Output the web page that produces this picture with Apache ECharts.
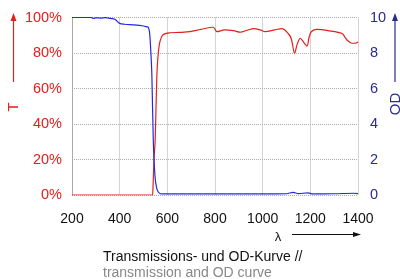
<!DOCTYPE html>
<html>
<head>
<meta charset="utf-8">
<script src="https://cdn.jsdelivr.net/npm/echarts@6/dist/echarts.min.js"></script>
<style>
html,body{margin:0;padding:0;background:#fff;}
#chart{width:400px;height:279px;}
</style>
</head>
<body>
<div id="chart"></div>
<script>
// wellenlaenge (nm) und transmission (%)
var tNm = [200, 530, 537, 540, 544, 549, 556, 562, 570, 583, 612, 650, 695, 740, 793, 808, 840, 877, 906, 935, 962, 990, 1011, 1050, 1081, 1107, 1120, 1134, 1145, 1158, 1172, 1186, 1195, 1204, 1228, 1280, 1333, 1345, 1354, 1375, 1389, 1400];
var tVal = [0, 0, 0, 5, 20, 31, 67, 80, 87, 90.4, 91.4, 91.6, 92, 93.3, 94.5, 92, 93, 92.6, 91.7, 92.8, 93.7, 93, 92, 93, 93.7, 91, 88, 79.8, 85, 88.3, 86, 83.9, 89, 92, 93.3, 92.5, 91, 89, 87.3, 85.5, 85.5, 86.2];
// optische dichte
var odNm = [200, 280, 290, 300, 320, 340, 360, 380, 400, 420, 460, 500, 515, 520, 525, 529, 535, 541, 548, 555, 565, 580, 600, 800, 1000, 1100, 1128, 1150, 1190, 1210, 1300, 1380, 1400];
var odVal = [10, 10, 9.95, 9.98, 9.97, 9.99, 9.95, 9.9, 9.67, 9.62, 9.58, 9.52, 9.47, 9.45, 9.2, 8.5, 6.8, 3.1, 1.1, 0.4, 0.12, 0.06, 0.06, 0.06, 0.06, 0.07, 0.15, 0.08, 0.12, 0.06, 0.07, 0.1, 0.08];
var xTicks = [200, 400, 600, 800, 1000, 1200, 1400];

var red = '#e3201b', navy = '#2b2b8c', blue = '#2626e6';
var font = '"Liberation Sans", Arial, sans-serif';

var chart = echarts.init(document.getElementById('chart'));
var option = {
    animation: false,
    textStyle: {fontFamily: font},
    grid: {left: 72, right: 42, top: 17.5, bottom: 84},
    xAxis: {
        type: 'value', min: 200, max: 1400, interval: 200,
        axisLine: {show: false},
        axisTick: {show: false},
        axisLabel: {color: '#111', fontSize: 14, margin: 17,
            formatter: function (v) { return xTicks.indexOf(v) >= 0 ? v : ''; }},
        splitLine: {lineStyle: {color: '#aaa', type: 'dotted', width: 1}}
    },
    yAxis: [{
        type: 'value', min: 0, max: 100, interval: 20,
        axisLine: {show: true, lineStyle: {color: '#aaa'}},
        axisTick: {show: false},
        axisLabel: {color: red, fontSize: 14.5, margin: 10, formatter: '{value}%'},
        splitLine: {lineStyle: {color: '#aaa', type: 'dotted', width: 1}}
    }, {
        type: 'value', min: 0, max: 10, interval: 2,
        axisLine: {show: false},
        axisTick: {show: false},
        axisLabel: {color: navy, fontSize: 14.5, margin: 12},
        splitLine: {show: false}
    }],
    series: [{
        name: 'T', type: 'line', yAxisIndex: 0, showSymbol: false, smooth: 0.3,
        lineStyle: {color: red, width: 1.2},
        data: tNm.map(function (x, i) { return [x, tVal[i]]; })
    }, {
        name: 'OD', type: 'line', yAxisIndex: 1, showSymbol: false, smooth: 0.3,
        lineStyle: {color: blue, width: 1.2},
        data: odNm.map(function (x, i) { return [x, odVal[i]]; })
    }],
    graphic: [
        // T pfeil
        {type: 'line', shape: {x1: 13.5, y1: 82, x2: 13.5, y2: 19}, style: {stroke: red, lineWidth: 1.2}},
        {type: 'polygon', shape: {points: [[13.5, 13], [10.5, 21], [16.5, 21]]}, style: {fill: red}},
        {type: 'text', x: 14, y: 107, rotation: Math.PI / 2, style: {text: 'T', fill: red, font: '15px ' + font, align: 'center', verticalAlign: 'middle'}},
        // OD pfeil
        {type: 'line', shape: {x1: 395, y1: 82, x2: 395, y2: 19}, style: {stroke: navy, lineWidth: 1.2}},
        {type: 'polygon', shape: {points: [[395, 13], [392, 21], [398, 21]]}, style: {fill: navy}},
        {type: 'text', x: 396, y: 104, rotation: Math.PI / 2, style: {text: 'OD', fill: navy, font: '15px ' + font, align: 'center', verticalAlign: 'middle'}},
        // lambda
        {type: 'text', x: 278, y: 237, style: {text: 'λ', fill: '#111', font: '13px ' + font, align: 'center', verticalAlign: 'middle'}},
        {type: 'line', shape: {x1: 292, y1: 234.5, x2: 354, y2: 234.5}, style: {stroke: '#111', lineWidth: 1}},
        {type: 'polygon', shape: {points: [[361, 234.5], [353, 232], [353, 237]]}, style: {fill: '#111'}},
        // beschriftung
        {type: 'text', x: 103, y: 257, style: {text: 'Transmissions- und OD-Kurve //', fill: '#111', font: '14px ' + font, verticalAlign: 'middle'}},
        {type: 'text', x: 103, y: 273, style: {text: 'transmission and OD curve', fill: '#888', font: '14px ' + font, verticalAlign: 'middle'}}
    ]
};
chart.setOption(option);
</script>
</body>
</html>
